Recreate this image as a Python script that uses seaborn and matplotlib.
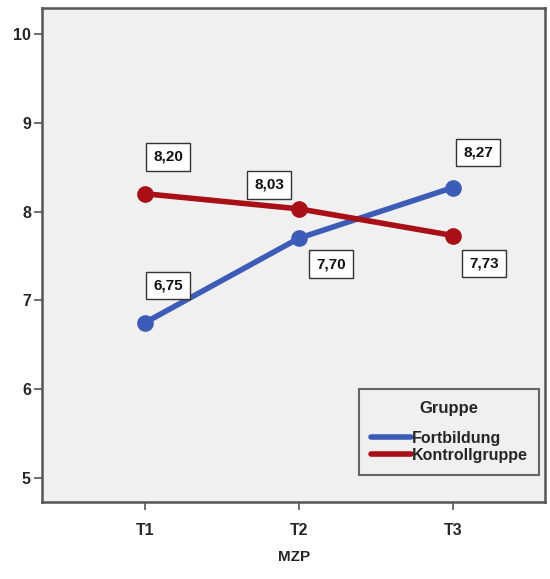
import pandas as pd
import numpy as np
import matplotlib
matplotlib.use('Agg')
import matplotlib.pyplot as plt
import seaborn as sns

# Data
zeitpunkte = ['T1', 'T2', 'T3']
fortbildung = [6.75, 7.70, 8.27]
kontrollgruppe = [8.20, 8.03, 7.73]
gruppen = ['Fortbildung', 'Kontrollgruppe']

df = pd.DataFrame({
    'MZP': zeitpunkte * 2,
    'Wert': fortbildung + kontrollgruppe,
    'Gruppe': [gruppen[0]] * 3 + [gruppen[1]] * 3,
})

sns.set_style('white')
plt.rcParams['font.family'] = ['Liberation Sans', 'DejaVu Sans']
plt.rcParams['font.weight'] = 'bold'

colors = {'Fortbildung': '#3d5cb8', 'Kontrollgruppe': '#a80f16'}

fig = plt.figure(figsize=(5.5, 5.79), dpi=100)
ax = fig.add_axes([0.0764, 0.133, 0.915, 0.853])
ax.set_facecolor('#f0f0f0')

sns.pointplot(data=df, x='MZP', y='Wert', hue='Gruppe', palette=colors,
              errorbar=None, markers='o', markersize=9, linewidth=4,
              ax=ax)

# Value labels in boxes (offsets in pixels, +y = up)
offsets = {
    'Fortbildung': [(23, 37), (32, -26), (25, 35)],
    'Kontrollgruppe': [(23, 37), (-30, 24), (31, -28)],
}
for grp, vals in [('Fortbildung', fortbildung), ('Kontrollgruppe', kontrollgruppe)]:
    for i, v in enumerate(vals):
        dx, dy = offsets[grp][i]
        ax.annotate(f'{v:.2f}'.replace('.', ','), xy=(i, v),
                    xytext=(dx, dy), textcoords='offset pixels',
                    ha='center', va='center', fontsize=11, fontweight='bold',
                    color='#111111',
                    bbox=dict(boxstyle='square,pad=0.45', fc='white', ec='#333333', lw=1))

ax.set_xlim(-0.67, 2.6)
ax.set_ylim(4.73, 10.29)
ax.set_yticks([5, 6, 7, 8, 9, 10])
ax.set_xlabel('MZP', fontsize=11, fontweight='bold', labelpad=9)
ax.set_ylabel('')
ax.tick_params(axis='both', bottom=True, left=True, direction='out', length=6,
               width=1.2, color='#555555', labelsize=11.5)
ax.tick_params(axis='x', pad=9)
ax.tick_params(axis='y', pad=2)
for lab in ax.get_xticklabels() + ax.get_yticklabels():
    lab.set_fontweight('bold')
for s in ax.spines.values():
    s.set_color('#555555')
    s.set_linewidth(1.8)

leg = ax.legend(title='Gruppe\n', loc='lower right', bbox_to_anchor=(0.998, 0.045),
                frameon=True, fancybox=False, fontsize=11.5, title_fontsize=12,
                handlelength=2.5, handletextpad=0.05, borderpad=0.75,
                labelspacing=0.15, borderaxespad=0.3)
leg.get_frame().set_edgecolor('#444444')
leg.get_frame().set_linewidth(1.5)
leg.get_frame().set_facecolor('#f0f0f0')
leg.get_title().set_fontweight('bold')
leg.get_title().set_linespacing(0.75)
for t in leg.get_texts():
    t.set_fontweight('bold')
for h in leg.legend_handles:
    h.set_marker('')
    h.set_linewidth(4)

fig.savefig('out.png', dpi=100)
